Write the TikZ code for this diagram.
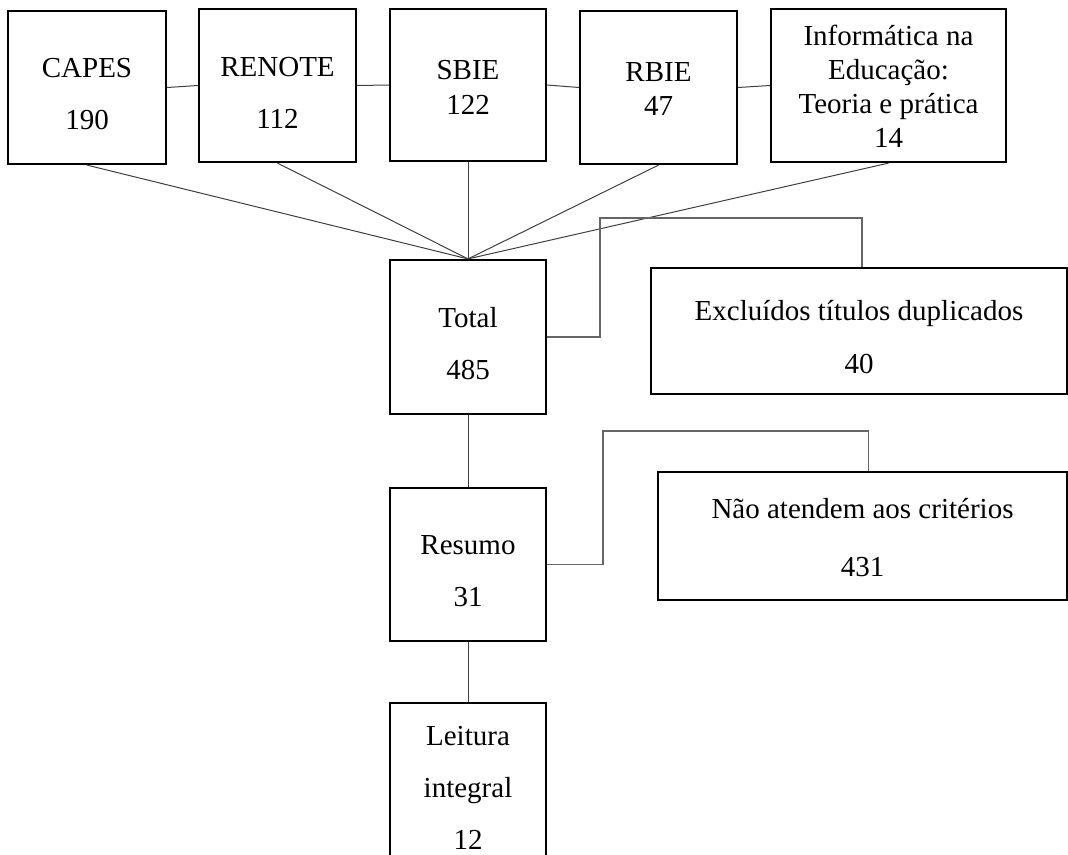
\documentclass[tikz,border=0pt]{standalone}
\usepackage{fontspec}
\setmainfont{Liberation Serif}

\begin{document}
\begin{tikzpicture}[x=1pt,y=-1pt,
  box/.style={draw=black,line width=2.2pt,inner sep=0pt,align=center},
  wide/.style={font=\fontsize{29}{52}\selectfont},
  tight/.style={font=\fontsize{29}{34}\selectfont},
  fan/.style={draw=black!75,line width=1pt},
  side/.style={draw=black!60,line width=1.3pt}]
\useasboundingbox (0,0) rectangle (1068,854);
\clip (0,0) rectangle (1068,854);
% sources
\node[box,wide,minimum width=158pt,minimum height=153pt] (capes) at (87,87.5) {\rule{0pt}{33pt}CAPES\\190};
\node[box,wide,minimum width=157pt,minimum height=153pt] (renote) at (277.5,85.5) {\rule{0pt}{34pt}RENOTE\\112};
\node[box,font=\fontsize{29}{35}\selectfont,minimum width=156pt,minimum height=152pt] (sbie) at (468,85) {\rule{0pt}{23pt}SBIE\\122};
\node[box,tight,minimum width=157pt,minimum height=153pt] (rbie) at (658.5,87.5) {\rule{0pt}{21pt}RBIE\\47};
\node[box,tight,minimum width=235pt,minimum height=153pt] (info) at (888.5,85.5) {\rule{0pt}{21pt}Informática na\\Educação:\\Teoria e prática\\14};
% steps
\node[box,wide,minimum width=156pt,minimum height=154pt] (total) at (468,337) {\rule{0pt}{33pt}Total\\485};
\node[box,wide,minimum width=156pt,minimum height=153pt] (resumo) at (468,564.5) {\rule{0pt}{33pt}Resumo\\31};
\node[box,wide,minimum width=156pt,minimum height=153pt] (leitura) at (468,779.5) {\rule{0pt}{35pt}Leitura\\integral\\12};
% exclusions
\node[box,font=\fontsize{29}{53}\selectfont,minimum width=416pt,minimum height=126pt] (excl) at (859,331) {\rule{0pt}{33pt}Excluídos títulos duplicados\\40};
\node[box,font=\fontsize{29}{58}\selectfont,minimum width=409pt,minimum height=128pt] (nao) at (862.5,536) {\rule{0pt}{24pt}Não atendem aos critérios\\431};
\coordinate (tbend) at (600,218);
\coordinate (rbend) at (603,431);
% links
\draw[fan] (capes.east) -- (renote.west);
\draw[fan] (renote.east) -- (sbie.west);
\draw[fan] (sbie.east) -- (rbie.west);
\draw[fan] (rbie.east) -- (info.west);
\foreach \src in {capes,renote,sbie,rbie,info}
  \draw[fan] (\src.south) -- (total.north);
\draw[fan] (total.south) -- (resumo.north);
\draw[fan] (resumo.south) -- (leitura.north);
\draw[side] (total.east) -| (tbend) -| ([xshift=3pt]excl.north);
\draw[side] (resumo.east) -| (rbend) -| ([xshift=6pt]nao.north);
\end{tikzpicture}
\end{document}
